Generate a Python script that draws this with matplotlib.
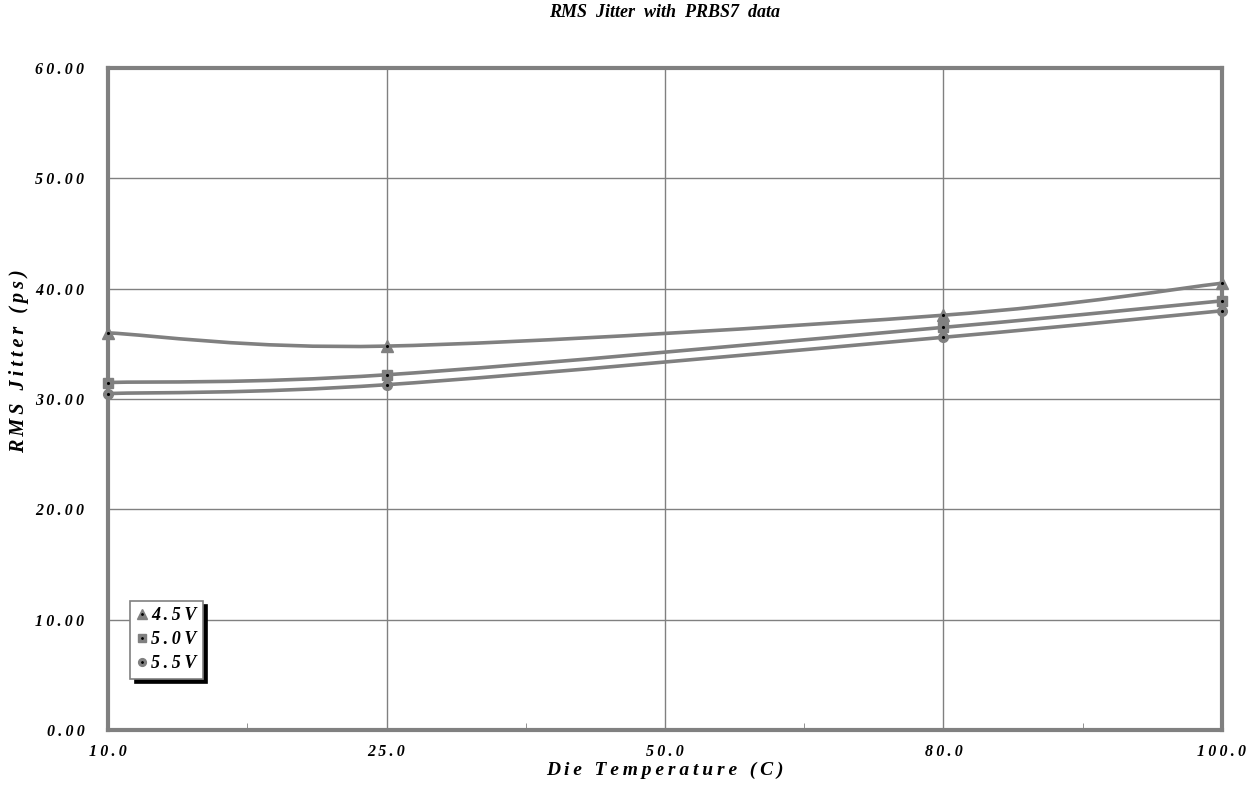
import numpy as np
import matplotlib.pyplot as plt
from matplotlib.path import Path
from matplotlib.patches import PathPatch
from matplotlib.lines import Line2D

categories = ['10.0', '25.0', '50.0', '80.0', '100.0']
temps = ['10.0', '25.0', '80.0', '100.0']
jitter_45 = [36.0, 34.8, 37.6, 40.5]
jitter_50 = [31.5, 32.2, 36.5, 38.9]
jitter_55 = [30.5, 31.3, 35.6, 38.0]

GRAY = '#808080'
FONT = ['Liberation Serif', 'DejaVu Serif']


def spaced(s):
    # reference text is drawn letter-spaced
    return '\u2009'.join(s)


def smooth_path(xs, ys):
    # Excel-style smoothed line: cubic Bezier segments through the points
    pts = np.column_stack([xs, ys]).astype(float)
    ext = np.vstack([pts[0], pts, pts[-1]])
    verts = [tuple(pts[0])]
    codes = [Path.MOVETO]
    for i in range(len(pts) - 1):
        p0, p1, p2, p3 = ext[i], ext[i + 1], ext[i + 2], ext[i + 3]
        c1 = p1 + (p2 - p0) / 6
        c2 = p2 - (p3 - p1) / 6
        verts += [tuple(c1), tuple(c2), tuple(p2)]
        codes += [Path.CURVE4] * 3
    return Path(verts, codes)


fig = plt.figure(figsize=(12.52, 7.92), dpi=100)
ax = fig.add_axes([0.0863, 0.0783, 0.8897, 0.8357])

xpos = [categories.index(t) for t in temps]
series = [('4.5V', jitter_45, '^', 9), ('5.0V', jitter_50, 's', 6.5), ('5.5V', jitter_55, 'o', 7)]
handles = []
for label, vals, mk, ms in series:
    ax.add_patch(PathPatch(smooth_path(xpos, vals), fill=False, edgecolor=GRAY,
                           linewidth=2.6, zorder=3))
    ax.plot(xpos, vals, linestyle='none', marker=mk, markersize=ms, color=GRAY,
            markeredgecolor=GRAY, clip_on=False, zorder=4)
    ax.plot(xpos, vals, linestyle='none', marker='.', markersize=2.5, color='black',
            clip_on=False, zorder=5)
    h1 = Line2D([], [], linestyle='none', marker=mk, markersize=ms * 0.8, color=GRAY)
    h2 = Line2D([], [], linestyle='none', marker='.', markersize=2, color='black')
    handles.append(((h1, h2), spaced(label)))

ax.set_xlim(0, len(categories) - 1)
ax.set_ylim(0, 60)
ax.set_xticks(range(len(categories)))
ax.set_xticklabels([spaced(c) for c in categories])
ax.set_xticks([0.5, 1.5, 2.5, 3.5], minor=True)
ax.set_yticks(np.arange(0, 61, 10))
ax.set_yticklabels([spaced(f'{v:.2f}') for v in np.arange(0, 61, 10)])
ax.grid(True, color=GRAY, linewidth=1.0)
ax.set_axisbelow(True)
ax.tick_params(which='major', length=0, pad=17)
ax.tick_params(axis='x', which='major', pad=10)
ax.tick_params(axis='x', which='minor', direction='in', length=5, color=GRAY)
for lab in ax.get_xticklabels() + ax.get_yticklabels():
    lab.set_fontfamily(FONT)
    lab.set_fontweight('bold')
    lab.set_fontstyle('italic')
    lab.set_fontsize(11.5)
for sp in ax.spines.values():
    sp.set_color(GRAY)
    sp.set_linewidth(3)

tfont = dict(family=FONT, weight='bold', style='italic')
ax.set_title('RMS  Jitter  with  PRBS7  data', fontsize=13, pad=37, **tfont)
ax.set_xlabel(spaced('Die Temperature (C)'), fontsize=14, labelpad=1, **tfont)
ax.set_ylabel(spaced('RMS Jitter (ps)'), fontsize=14.5, **tfont)
ax.yaxis.set_label_coords(-0.071, 0.557)

leg = ax.legend([h for h, _ in handles], [l for _, l in handles],
                loc='lower left', bbox_to_anchor=(0.012, 0.064), frameon=True,
                fancybox=False, shadow={'color': 'black', 'alpha': 1.0, 'ox': 3, 'oy': -3},
                handlelength=0.6, handletextpad=0.2, borderpad=0.35, labelspacing=0.4,
                prop=dict(family=FONT, weight='bold', style='italic', size=13))
leg.get_frame().set_edgecolor(GRAY)
leg.get_frame().set_linewidth(1.2)

fig.savefig('out.png', dpi=100)
